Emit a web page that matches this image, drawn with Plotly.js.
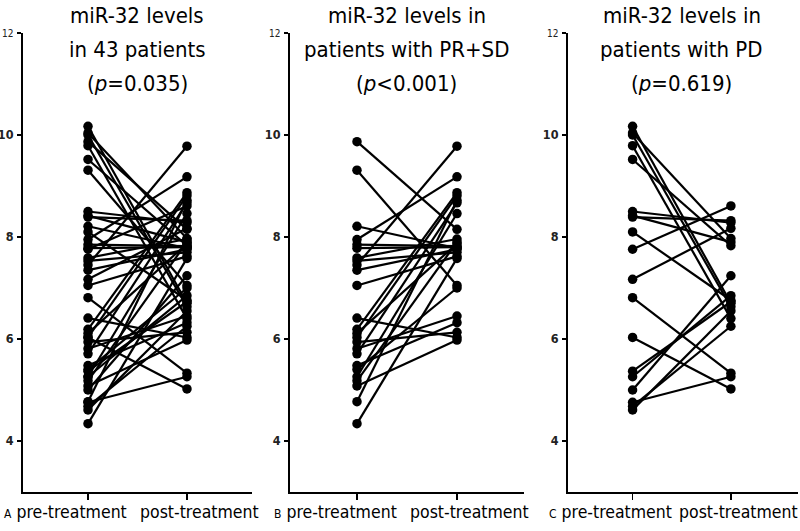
<!DOCTYPE html>
<html>
<head>
<meta charset="utf-8">
<script src="https://cdn.plot.ly/plotly-3.0.1.min.js"></script>
<style>html,body{margin:0;padding:0;background:#fff;}#chart{width:800px;height:531px;}</style>
</head>
<body>
<div id="chart"></div>
<script>
// Panel B: patients with PR+SD
const preB  = [9.87, 9.31, 8.21, 7.95, 7.85, 7.78, 7.59, 7.53, 7.45, 7.35, 7.05, 6.41, 6.19, 6.11, 6.03, 5.94, 5.81, 5.71, 5.48, 5.40, 5.26, 5.18, 5.08, 4.77, 4.34];
const postB = [8.15, 7.05, 7.78, 9.18, 7.82, 7.80, 7.96, 7.70, 9.78, 7.76, 7.62, 6.03, 8.87, 7.87, 8.81, 6.13, 6.45, 8.67, 6.32, 7.00, 8.46, 7.90, 5.98, 8.72, 7.58];
// Panel C: patients with PD
const preC  = [10.17, 10.04, 10.00, 9.79, 9.52, 8.50, 8.42, 8.39, 8.10, 7.76, 7.17, 6.81, 6.03, 5.37, 5.26, 5.00, 4.76, 4.68, 4.61];
const postC = [6.70, 7.97, 6.63, 6.40, 7.83, 8.28, 7.90, 8.32, 6.76, 8.61, 8.17, 5.33, 5.02, 6.73, 6.85, 7.24, 5.26, 6.25, 6.55];
// Panel A: all 43 patients (PR+SD together with PD)
const preA  = preB.concat(preC);
const postA = postB.concat(postC);

const groups = ["pre-treatment", "post-treatment"];
const panelLetters = ["A", "B", "C"];
const titles = [
  ["miR-32 levels", "in 43 patients", "(<i>p</i>=0.035)"],
  ["miR-32 levels in", "patients with PR+SD", "(<i>p</i>&lt;0.001)"],
  ["miR-32 levels in", "patients with PD", "(<i>p</i>=0.619)"]
];
const yTickVals = [4, 6, 8, 10, 12];
const yTickText = ["4", "6", "8", "10", '<span style="font-size:10px;font-weight:normal">12</span>'];

function pairTrace(pre, post, xa, ya) {
  const x = [], y = [];
  for (let i = 0; i < pre.length; i++) {
    x.push(0, 1, null);
    y.push(pre[i], post[i], null);
  }
  return {
    type: "scatter", mode: "lines+markers", x: x, y: y, xaxis: xa, yaxis: ya,
    connectgaps: false, hoverinfo: "skip",
    line: {color: "#000", width: 2.2},
    marker: {color: "#000", size: 9.5}
  };
}

const data = [
  pairTrace(preA, postA, "x", "y"),
  pairTrace(preB, postB, "x2", "y2"),
  pairTrace(preC, postC, "x3", "y3")
];

const FONT = "DejaVu Sans Condensed, Liberation Sans, Arial, sans-serif";
function xaxis(domain, range, anchor) {
  return {
    domain: domain, range: range, anchor: anchor,
    showgrid: false, zeroline: false, showline: true, linecolor: "#000", linewidth: 2,
    tickmode: "array", tickvals: [0, 1], ticktext: ["", ""], showticklabels: false,
    ticks: "outside", ticklen: 6, tickwidth: 1.5, tickcolor: "#000", fixedrange: true
  };
}
function yaxis(anchor) {
  return {
    domain: [0, 1], range: [3, 12], anchor: anchor,
    showgrid: false, zeroline: false, showline: true, linecolor: "#000", linewidth: 2,
    tickmode: "array", tickvals: yTickVals, ticktext: yTickText,
    ticks: "outside", ticklen: 4, tickwidth: 1.5, tickcolor: "#000", ticklabelstandoff: 1,
    tickfont: {family: FONT, size: 12.5, color: "#222", weight: "bold"}, fixedrange: true
  };
}

const annotations = [];
const xrefs = ["x", "x2", "x3"];
const titleY = [1.0392, 0.9651, 0.891];
const preShift = [-23, -21, -22];
const postShift = [13, 13, 8];
for (let p = 0; p < 3; p++) {
  for (let l = 0; l < 3; l++) {
    annotations.push({
      xref: xrefs[p], yref: "paper", x: 0.5, y: titleY[l], xanchor: "center", yanchor: "middle",
      text: titles[p][l], showarrow: false, font: {family: FONT, size: 22, color: "#000"}
    });
  }
  annotations.push({
    xref: xrefs[p], yref: "paper", x: 0, y: 0, xanchor: "center", yanchor: "top", yshift: -8,
    xshift: preShift[p],
    text: '<span style="font-size:12px">' + panelLetters[p] + '</span> ' + groups[0],
    showarrow: false, font: {family: FONT, size: 17.5, color: "#000"}
  });
  annotations.push({
    xref: xrefs[p], yref: "paper", x: 1, y: 0, xanchor: "center", yanchor: "top", yshift: -8,
    xshift: postShift[p],
    text: groups[1], showarrow: false, font: {family: FONT, size: 17.5, color: "#000"}
  });
}

const layout = {
  width: 800, height: 531,
  margin: {l: 23, r: 0, t: 33, b: 39},
  paper_bgcolor: "#fff", plot_bgcolor: "#fff",
  showlegend: false,
  font: {family: FONT, color: "#000"},
  xaxis: xaxis([0, 0.2947], [-0.657, 1.657], "y"),
  xaxis2: xaxis([0.3436, 0.6448], [-0.67, 1.67], "y2"),
  xaxis3: xaxis([0.7014, 0.998], [-0.657, 1.687], "y3"),
  yaxis: yaxis("x"),
  yaxis2: yaxis("x2"),
  yaxis3: yaxis("x3"),
  annotations: annotations
};

Plotly.newPlot("chart", data, layout, {displayModeBar: false, staticPlot: true});
</script>
</body>
</html>
